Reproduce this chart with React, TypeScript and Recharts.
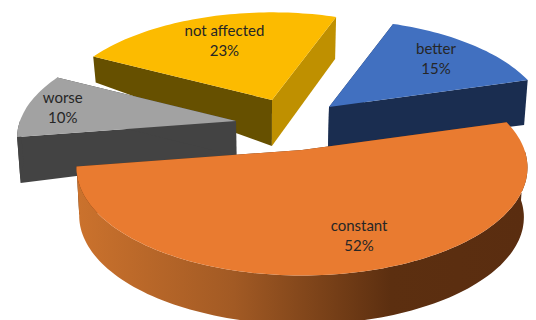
import React from 'react';
import { PieChart, Pie } from 'recharts';

const CATEGORIES = ['better', 'not affected', 'worse', 'constant'];
const VALUES = [15, 23, 10, 52];

// slice colours: top face, wall on the start radius, wall on the end radius
const TOP_COLORS = ['#4170c0', '#fcbb00', '#a2a2a2', '#e97b30'];
const START_WALLS = ['#1a2d50', '#bf9000', '#434343', '#5c2f10'];
const END_WALLS = ['#1a2d50', '#665000', '#434343', '#5c2f10'];

// how far each slice is pulled out of the pie
const EXPLODE_X = [61, 4, -32, 34];
const EXPLODE_Y = [-53, -60, -39, -10];
const SLICE_SCALE = [1, 1, 1, 1.03];

// extrusion heights per slice
const DEPTH_APEX = [40, 46, 35, 48];
const DEPTH_RIM_START = [45, 42, 35, 48];
const DEPTH_RIM_END = [45, 26, 46, 50];

const LABEL_RADIUS = [0.74, 0.68, 0.83, 0.74];
const LABEL_NUDGE = [-1, 1, 0, 17];

const TILT = 0.472;
const PERSPECTIVE = 0.163;
const CONVERGE = 0.014;

const chartData = CATEGORIES.map((name, i) => ({ name, value: VALUES[i] }));

// tilted disc with a little perspective, relative to the slice apex
const project = (angle: number, f: number, radius: number) => {
  const a = (angle * Math.PI) / 180;
  const u = f * Math.cos(a);
  const v = f * Math.sin(a);
  const s = 1 / (1 + PERSPECTIVE * v);
  return { x: radius * u * s, y: -radius * TILT * v * s };
};

const toPath = (pts: { x: number; y: number }[]) =>
  pts.map((p, i) => `${i ? 'L' : 'M'}${p.x.toFixed(1)} ${p.y.toFixed(1)}`).join(' ') + ' Z';

const Slice3D = (props: any) => {
  const { cx, cy, outerRadius, startAngle, endAngle, name } = props;
  const i = CATEGORIES.indexOf(name);
  const r = outerRadius * SLICE_SCALE[i];
  const ox = cx + EXPLODE_X[i];
  const oy = cy + EXPLODE_Y[i];

  const top = (angle: number, f = 1) => {
    const p = project(angle, f, r);
    return { x: ox + p.x, y: oy + p.y };
  };
  const drop = (p: { x: number; y: number }, depth: number) => ({
    x: p.x + (cx - p.x) * CONVERGE,
    y: p.y + depth,
  });

  const span = endAngle - startAngle;
  const rimDepth = (angle: number) =>
    DEPTH_RIM_START[i] + ((DEPTH_RIM_END[i] - DEPTH_RIM_START[i]) * (angle - startAngle)) / span;

  const angles: number[] = [];
  for (let a = startAngle; a < endAngle; a += 1.5) angles.push(a);
  angles.push(endAngle);

  const apex = { x: ox, y: oy };
  const apexLow = drop(apex, DEPTH_APEX[i]);
  const startTip = top(startAngle);
  const endTip = top(endAngle);

  // only the part of the rim that faces the viewer gets a wall
  const front = angles.filter(a => Math.sin((a * Math.PI) / 180) <= 0.01);
  const rimTop = front.map(a => top(a));
  const rimLow = front.map(a => drop(top(a), rimDepth(a))).reverse();
  const gradId = `rim-${i}`;

  return (
    <g>
      <defs>
        <linearGradient id={gradId} gradientUnits="userSpaceOnUse" x1={77} x2={525} y1={0} y2={0}>
          <stop offset="0" stopColor="#cb722d" />
          <stop offset="0.35" stopColor="#a25a24" />
          <stop offset="0.7" stopColor="#5c2f10" />
          <stop offset="1" stopColor="#5a2d10" />
        </linearGradient>
      </defs>
      <path d={toPath([apex, endTip, drop(endTip, DEPTH_RIM_END[i]), apexLow])} fill={END_WALLS[i]} />
      <path d={toPath([apex, startTip, drop(startTip, DEPTH_RIM_START[i]), apexLow])} fill={START_WALLS[i]} />
      {front.length > 1 && (
        <path
          d={toPath([...rimTop, ...rimLow])}
          fill={i === 3 ? `url(#${gradId})` : END_WALLS[i]}
        />
      )}
      <path d={toPath([apex, ...angles.map(a => top(a))])} fill={TOP_COLORS[i]} />
    </g>
  );
};

const renderLabel = (props: any) => {
  const { cx, cy, outerRadius, midAngle, name, value } = props;
  const i = CATEGORIES.indexOf(name);
  const p = project(midAngle, LABEL_RADIUS[i], outerRadius * SLICE_SCALE[i]);
  const x = cx + EXPLODE_X[i] + p.x + LABEL_NUDGE[i];
  const y = cy + EXPLODE_Y[i] + p.y;
  return (
    <text x={x} y={y} textAnchor="middle" fontFamily="Lato" fontSize={15} fill="#262626">
      <tspan x={x} y={y - 5}>{name}</tspan>
      <tspan x={x} y={y + 15}>{`${value}%`}</tspan>
    </text>
  );
};

export default function App() {
  return (
    <div style={{ position: 'absolute', left: 0, top: 0, width: 536, height: 320, background: '#fff' }}>
      <PieChart width={536} height={320} margin={{ top: 0, right: 0, bottom: 0, left: 0 }}>
        <Pie
          data={chartData}
          dataKey="value"
          nameKey="name"
          cx={268}
          cy={160}
          outerRadius={216}
          startAngle={16}
          endAngle={376}
          stroke="none"
          labelLine={false}
          label={renderLabel}
          shape={Slice3D}
          isAnimationActive={false}
        />
      </PieChart>
    </div>
  );
}
